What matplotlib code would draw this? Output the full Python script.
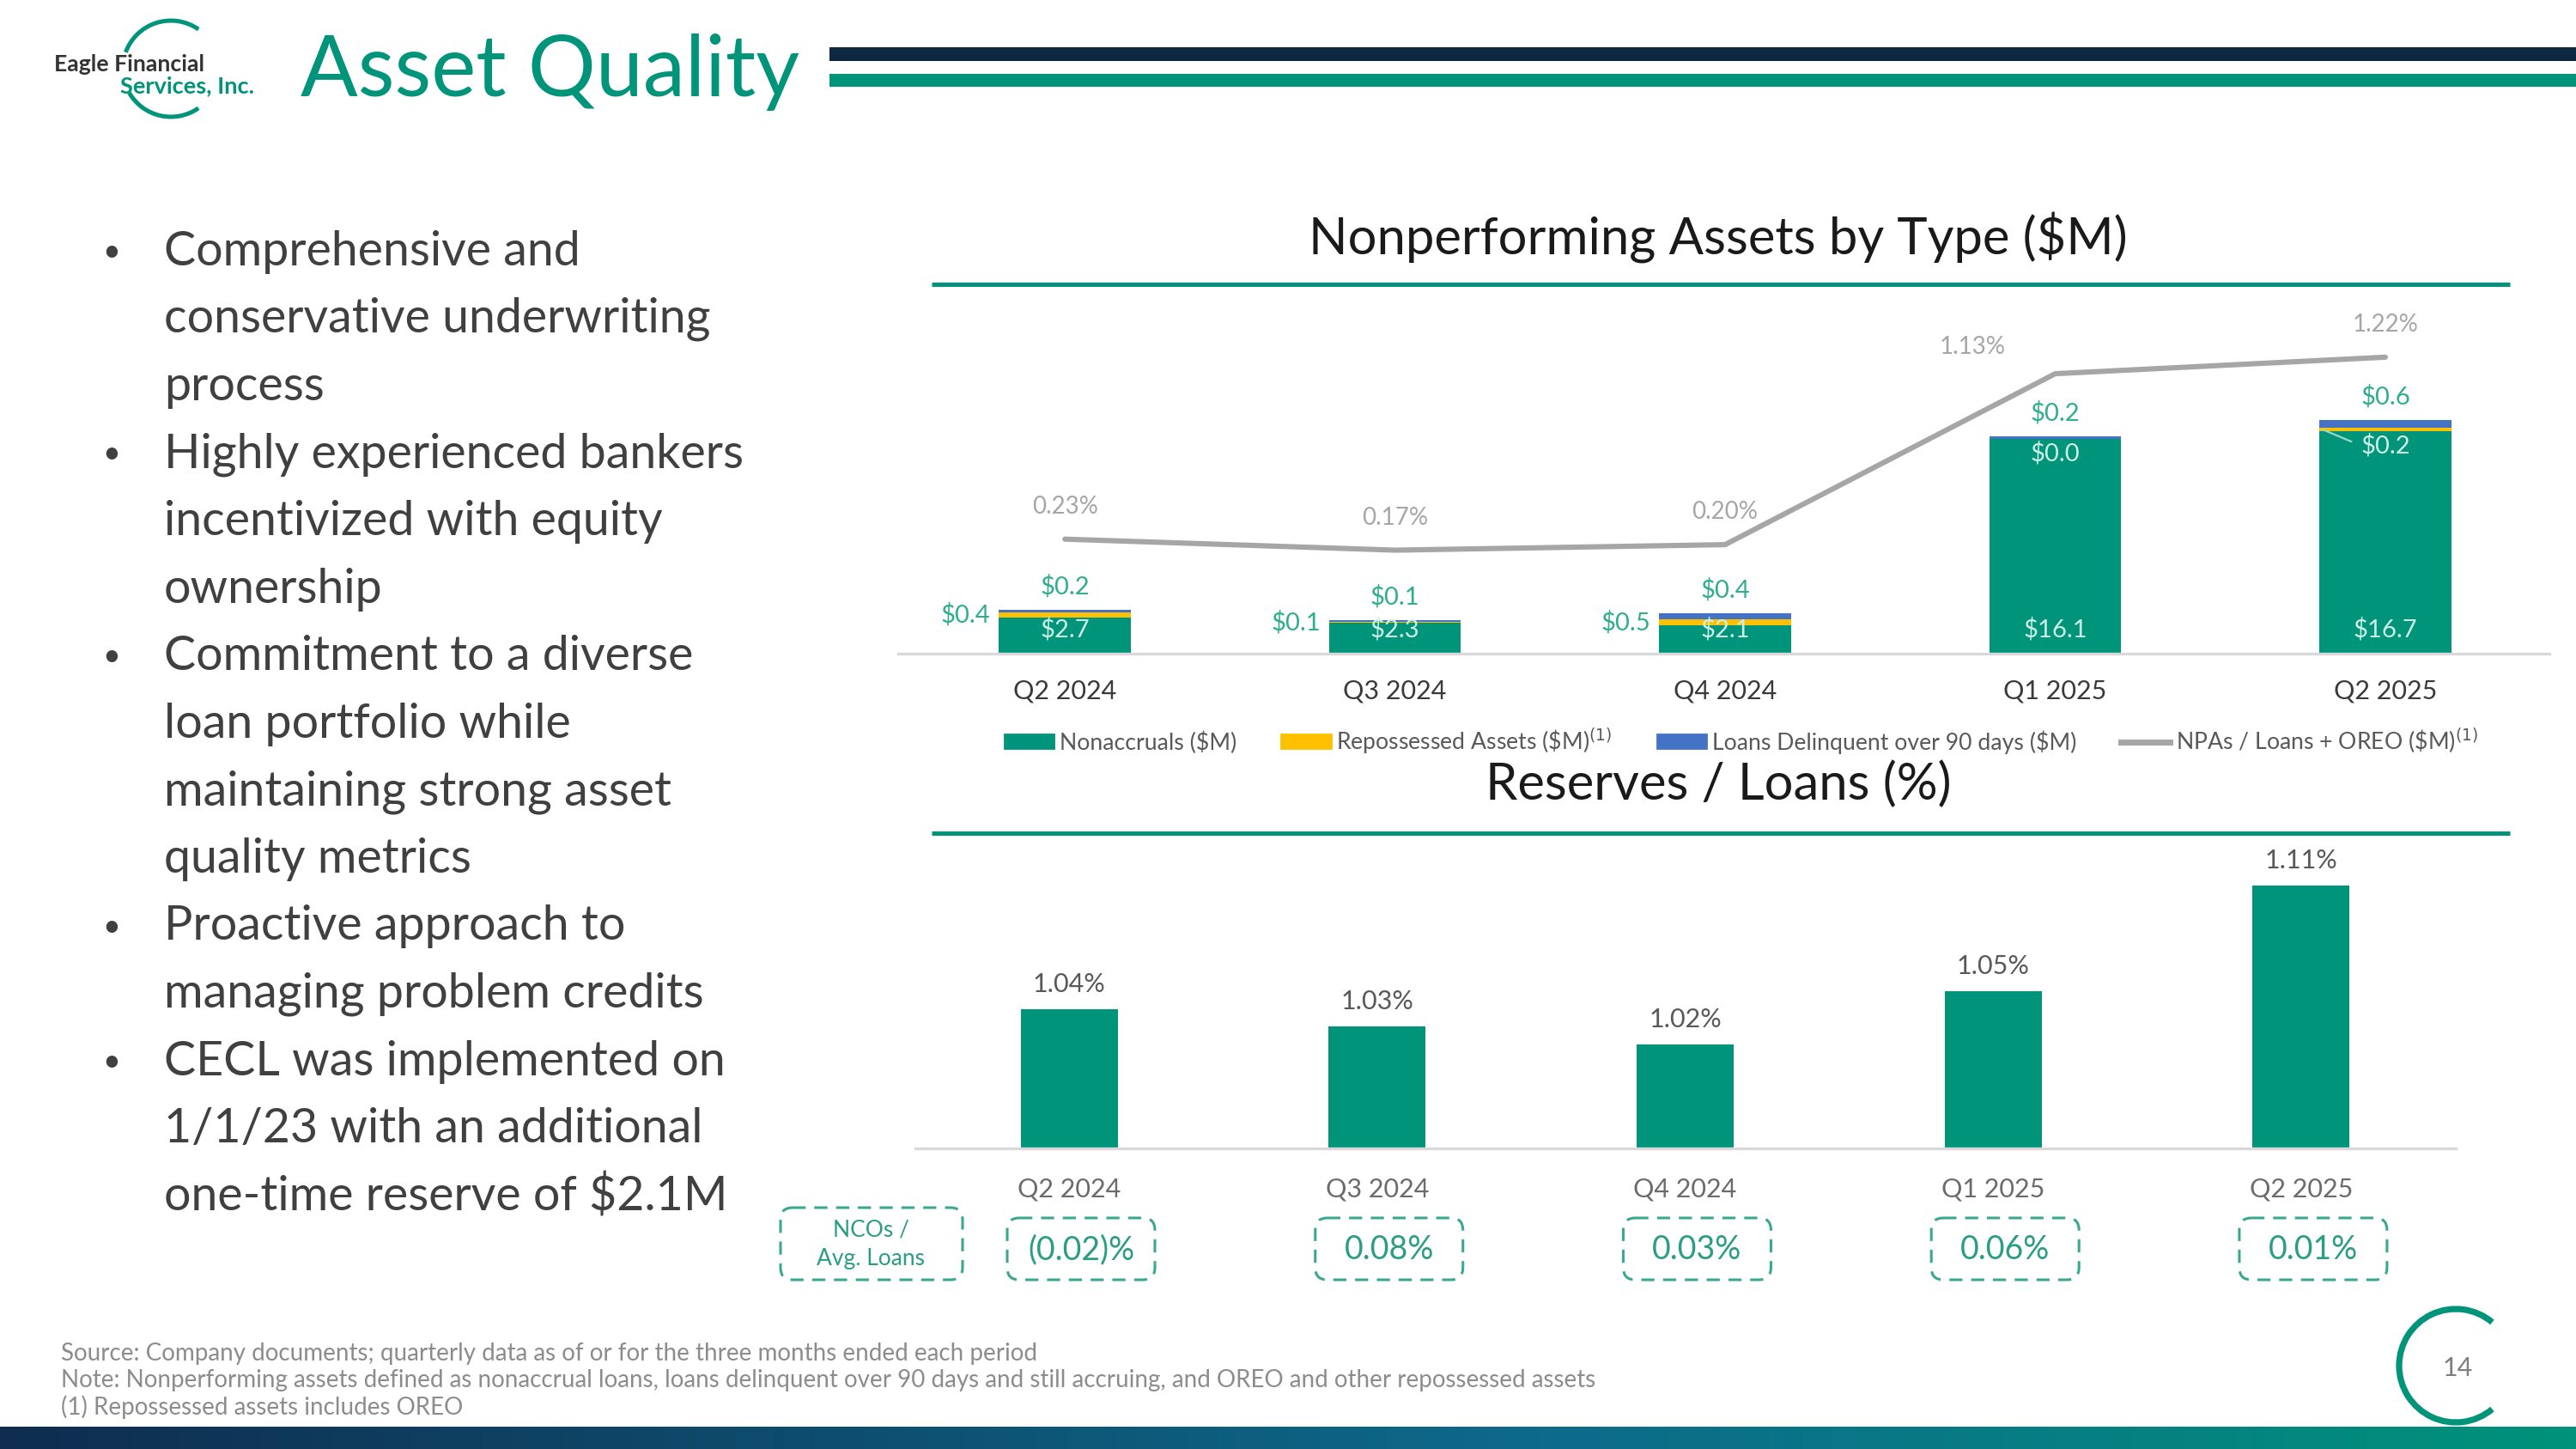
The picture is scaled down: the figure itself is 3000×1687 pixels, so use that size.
import numpy as np
import matplotlib
matplotlib.use("Agg")
import matplotlib.pyplot as plt
from matplotlib.patches import FancyBboxPatch, Arc, Rectangle, Patch
from matplotlib.lines import Line2D
from matplotlib.colors import LinearSegmentedColormap

plt.rcParams['font.family'] = ['Lato', 'DejaVu Sans']

# ---- data ----
quarters = ['Q2 2024', 'Q3 2024', 'Q4 2024', 'Q1 2025', 'Q2 2025']
nonaccruals = [2.7, 2.3, 2.1, 16.1, 16.7]
repossessed = [0.4, 0.1, 0.5, 0.0, 0.2]
delinquent = [0.2, 0.1, 0.4, 0.2, 0.6]
npa_ratio = [0.23, 0.17, 0.20, 1.13, 1.22]
reserves = [1.04, 1.03, 1.02, 1.05, 1.11]
nco_ratio = ['(0.02)%', '0.08%', '0.03%', '0.06%', '0.01%']

bullet_lines = [
    ('•', 'Comprehensive and'),
    ('', 'conservative underwriting'),
    ('', 'process'),
    ('•', 'Highly experienced bankers'),
    ('', 'incentivized with equity'),
    ('', 'ownership'),
    ('•', 'Commitment to a diverse'),
    ('', 'loan portfolio while'),
    ('', 'maintaining strong asset'),
    ('', 'quality metrics'),
    ('•', 'Proactive approach to'),
    ('', 'managing problem credits'),
    ('•', 'CECL was implemented on'),
    ('', '1/1/23 with an additional'),
    ('', r'one-time reserve of \$2.1M'),
]
footnotes = [
    'Source: Company documents; quarterly data as of or for the three months ended each period',
    'Note: Nonperforming assets defined as nonaccrual loans, loans delinquent over 90 days and still accruing, and OREO and other repossessed assets',
    '(1) Repossessed assets includes OREO',
]

TEAL = '#00957a'
LTEAL = '#2fae8f'
INSIDE = '#cdeee5'
YELLOW = '#ffc000'
BLUE = '#4472c4'
GRAY = '#a6a6a6'
NAVY = '#0e2841'

W, H, DPI = 3000, 1687, 200
fig = plt.figure(figsize=(W / DPI, H / DPI), dpi=DPI)
fig.patch.set_facecolor('white')

# full-figure canvas in pixel units (origin top-left)
canvas = fig.add_axes([0, 0, 1, 1])
canvas.axis('off')


def frame(x0, y0, x1, y1):
    return [x0 / W, 1 - y1 / H, (x1 - x0) / W, (y1 - y0) / H]


PT = DPI / 72.0  # pixels per point

# ---- header ----
canvas.add_patch(Rectangle((966, 55), W - 966, 16, color=NAVY, lw=0))
canvas.add_patch(Rectangle((966, 86), W - 966, 15, color=TEAL, lw=0))
canvas.text(350, 84, 'Asset Quality', fontsize=35.5, color=TEAL, ha='left', va='center')
canvas.add_patch(Arc((199, 80), 112, 112, theta1=200, theta2=305, color=TEAL, lw=1.8))
canvas.add_patch(Arc((199, 80), 112, 112, theta1=55, theta2=150, color=TEAL, lw=1.8))
canvas.text(63, 75, 'Eagle Financial', fontsize=9.6, fontweight='bold', color='#333333',
            ha='left', va='center')
canvas.text(140, 100, 'Services, Inc.', fontsize=9.8, fontweight='bold', color=TEAL,
            ha='left', va='center')

# ---- bullets ----
for k, (mark, line) in enumerate(bullet_lines):
    yy = 293 + k * 78.6
    if mark:
        canvas.text(130, yy, mark, fontsize=13, color='#404040', ha='center', va='center')
    canvas.text(191, yy, line, fontsize=20, color='#404040', ha='left', va='center')

# ---- chart titles ----
canvas.text(2001, 277, r'Nonperforming Assets by Type (\$M)', fontsize=21.5, color='#1a1a1a',
            ha='center', va='center')
canvas.plot([1085, 2923], [331, 331], color=TEAL, lw=1.8, solid_capstyle='butt')
canvas.text(2001, 913, 'Reserves / Loans (%)', fontsize=21.5, color='#1a1a1a',
            ha='center', va='center')
canvas.plot([1085, 2923], [970, 970], color=TEAL, lw=1.8, solid_capstyle='butt')

# ---- top chart: NPAs by type ----
x = np.arange(len(quarters))
non = np.array(nonaccruals)
rep = np.array(repossessed)
dlq = np.array(delinquent)
bw = 0.40

ax1 = fig.add_axes(frame(1046, 354, 2969, 761))
ax1.set_facecolor('none')
ax1.bar(x, non, bw, color=TEAL, zorder=2)
ax1.bar(x, rep, bw, bottom=non, color=YELLOW, zorder=2)
ax1.bar(x, dlq, bw, bottom=non + rep, color=BLUE, zorder=2)
ax1.set_xlim(-0.505, 4.497)
ax1.set_ylim(0, 26.2)
for s in ['top', 'left', 'right']:
    ax1.spines[s].set_visible(False)
ax1.spines['bottom'].set_color('#d9d9d9')
ax1.spines['bottom'].set_linewidth(1.2)
ax1.set_yticks([])
ax1.set_xticks(x, quarters)
ax1.tick_params(axis='x', length=0, pad=10.5, labelsize=11, labelcolor='#3a3a3a')

for i in range(len(x)):
    ax1.text(i, 1.85, f'\\${non[i]:.1f}', color=INSIDE, fontsize=10.5, ha='center',
             va='center', zorder=3)
    if non[i] > 10:
        if rep[i] > 0:
            ax1.annotate(f'\\${rep[i]:.1f}', xy=(i - bw / 2 + 0.01, non[i] + rep[i] / 2),
                         xytext=(i, non[i] - 1.1), color=INSIDE, fontsize=10.5,
                         ha='center', va='center', zorder=3,
                         arrowprops=dict(arrowstyle='-', color='#9ad8c8', lw=0.8,
                                         relpos=(0, 0.5), shrinkA=2, shrinkB=0))
        else:
            ax1.text(i, non[i] - 1.1, f'\\${rep[i]:.1f}', color=INSIDE, fontsize=10.5,
                     ha='center', va='center', zorder=3)
    else:
        ax1.text(i - bw / 2 - 0.025, non[i] + rep[i] / 2, f'\\${rep[i]:.1f}', color=LTEAL,
                 fontsize=10.5, ha='right', va='center', zorder=3)
    ax1.text(i, non[i] + rep[i] + dlq[i] + 1.75, f'\\${dlq[i]:.1f}', color=LTEAL,
             fontsize=10.5, ha='center', va='center', zorder=3)

ax1b = ax1.twinx()
ax1b.set_facecolor('none')
ax1b.plot(x, npa_ratio, color=GRAY, lw=2.2, solid_capstyle='round', zorder=4)
ax1b.set_ylim(-0.393, 1.509)
ax1b.set_yticks([])
for s in ['top', 'left', 'right', 'bottom']:
    ax1b.spines[s].set_visible(False)
for i, v in enumerate(npa_ratio):
    off = (-96 / PT, 31 / PT) if i == 3 else (0, 38 / PT)
    ax1b.annotate(f'{v:.2f}%', (i, v), xytext=off, textcoords='offset points',
                  ha='center', va='center', color=GRAY, fontsize=10)

# legend
handles = [Patch(color=TEAL), Patch(color=YELLOW), Patch(color=BLUE),
           Line2D([], [], color=GRAY, lw=2.5)]
labels = [r'Nonaccruals (\$M)', r'Repossessed Assets (\$M)$^{(1)}$',
          r'Loans Delinquent over 90 days (\$M)', r'NPAs / Loans + OREO (\$M)$^{(1)}$']
fig.legend(handles, labels, loc='center', bbox_to_anchor=(2028 / W, 1 - 863 / H), ncol=4,
           frameon=False, fontsize=9.6, handlelength=2.15, handleheight=0.55,
           columnspacing=1.95, handletextpad=0.25, labelcolor='#595959')

# ---- bottom chart: reserves / loans ----
ax2 = fig.add_axes(frame(1066, 995, 2860, 1337))
ax2.set_facecolor('none')
ax2.bar(x, reserves, 0.315, color=TEAL)
ax2.set_xlim(-0.499, 4.502)
ax2.set_ylim(0.961, 1.1275)
for s in ['top', 'left', 'right']:
    ax2.spines[s].set_visible(False)
ax2.spines['bottom'].set_color('#d9d9d9')
ax2.spines['bottom'].set_linewidth(1.2)
ax2.set_yticks([])
ax2.set_xticks(x, quarters)
ax2.tick_params(axis='x', length=0, pad=12, labelsize=11, labelcolor='#6b6b6b')
for i, v in enumerate(reserves):
    ax2.annotate(f'{v:.2f}%', (i, v), xytext=(0, 29 / PT), textcoords='offset points',
                 ha='center', va='center', color='#595959', fontsize=11)

# NCO / avg loans boxes
box_style = dict(fill=False, edgecolor='#3aa88f', lw=1.1, ls=(0, (5, 3.3)))
canvas.add_patch(FancyBboxPatch((921, 1418), 188, 60,
                                boxstyle='round,pad=12,rounding_size=14', **box_style))
canvas.text(1014, 1432, 'NCOs /', fontsize=9.5, color='#2a9d85', ha='center', va='center')
canvas.text(1014, 1465, 'Avg. Loans', fontsize=9.5, color='#2a9d85', ha='center', va='center')
for i, lab in enumerate(nco_ratio):
    cx = ax2.transData.transform((i, 1.0))[0] + 14
    canvas.add_patch(FancyBboxPatch((cx - 74, 1430), 148, 48,
                                    boxstyle='round,pad=12,rounding_size=14', **box_style))
    canvas.text(cx, 1455, lab, fontsize=13.5, color='#2a9d85', ha='center', va='center')

# ---- footnotes ----
for k, line in enumerate(footnotes):
    canvas.text(71, 1576 + k * 31, line, fontsize=10, color='#8c8c8c', ha='left', va='center')

# ---- page number ----
canvas.add_patch(Arc((2860, 1590), 132, 132, theta1=50, theta2=310, color=TEAL, lw=2.6))
canvas.text(2862, 1593, '14', fontsize=11, color='#7f7f7f', ha='center', va='center')

# ---- bottom band ----
band = LinearSegmentedColormap.from_list('band', [(0, '#0f2d4f'), (0.6, '#0d6a8b'), (1, '#00927a')])
canvas.imshow(np.linspace(0, 1, 256)[None, :], cmap=band, extent=(0, W, H, 1661), aspect='auto')

canvas.set_xlim(0, W)
canvas.set_ylim(H, 0)

fig.savefig('out.png', dpi=DPI, facecolor='white')
